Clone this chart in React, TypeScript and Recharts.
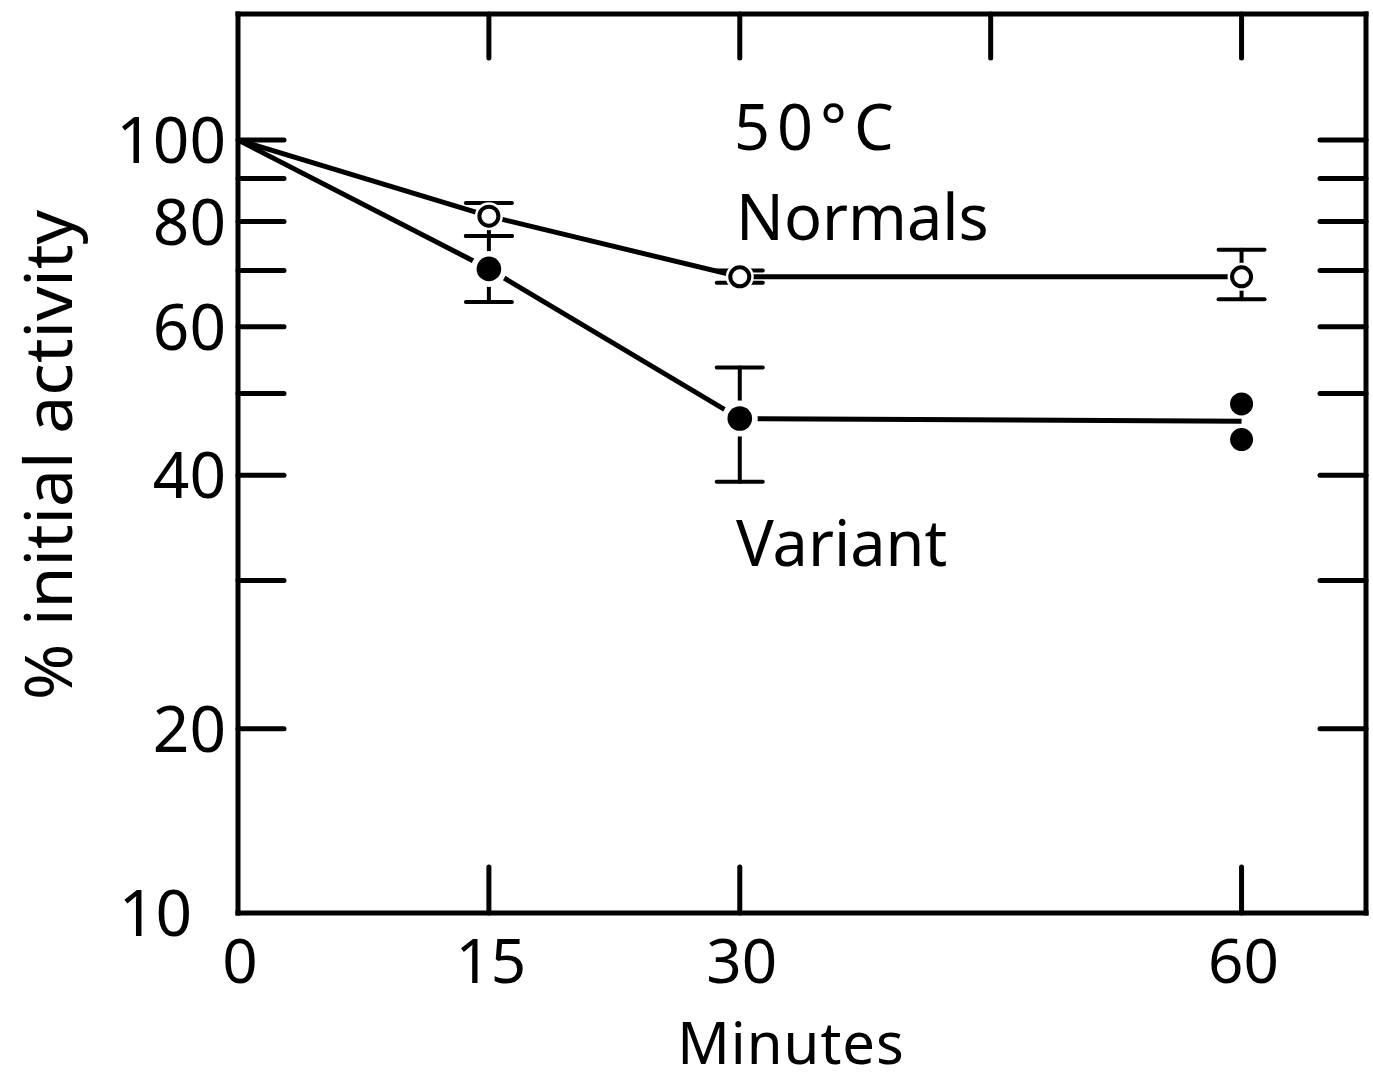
import React from "react";
import {
  ComposedChart, Line, Scatter, XAxis, YAxis, ErrorBar, Customized,
} from "recharts";

// Heat inactivation at 50 °C: % of initial activity (log scale) vs. minutes.

// ---------------------------------------------------------------------------
// data
// ---------------------------------------------------------------------------

const minutes = [0, 15, 30, 60];

const normalsMean = [100, 81.2, 68.8, 68.8];
const normalsHigh = [null, 84.2, 70.0, 74.1];
const normalsLow = [null, 76.9, 67.7, 64.7];

const variantMean = [100, 70.3, 46.7, 46.35];
const variantHigh = [null, 76.9, 53.7, null];
const variantLow = [null, 64.2, 39.3, null];

// two single determinations for the variant at 60 min
const variantSingleMinutes = [60, 60];
const variantSingleValues = [48.6, 44.1];

const bottomTicks = [0, 15, 30, 60];
const topTicks = [15, 30, 45, 60];
const yTicks = [20, 30, 40, 50, 60, 70, 80, 90, 100];
const yTickLabels = [20, 40, 60, 80, 100];

// ---------------------------------------------------------------------------
// layout / style
// ---------------------------------------------------------------------------

const W = 1373;
const H = 1083;
const X_MAX = 67.44;
const Y_MIN = 12.09; // bottom edge of the frame, lettered "10"
const Y_MAX = 141.1;

const INK = "#000";
const FONT = "'Noto Sans', sans-serif";
const TICK_LEN = 46;
const FRAME = { stroke: INK, strokeWidth: 5, strokeLinecap: "square" as const };

const errPair = (mean: number, lo: number | null, hi: number | null) =>
  lo == null || hi == null ? undefined : [mean - lo, hi - mean];

const rows = minutes.map((m, i) => ({
  minutes: m,
  normals: normalsMean[i],
  normalsErr: errPair(normalsMean[i], normalsLow[i], normalsHigh[i]),
  variant: variantMean[i],
  variantErr: errPair(variantMean[i], variantLow[i], variantHigh[i]),
}));

const singles = variantSingleMinutes.map((m, i) => ({
  minutes: m,
  value: variantSingleValues[i],
}));

// ---------------------------------------------------------------------------
// ticks (drawn pointing into the frame)
// ---------------------------------------------------------------------------

const labelStyle = { fontFamily: FONT, fontSize: 64, fill: INK };
const xLabelStyle = { fontFamily: FONT, fontSize: 62, fill: INK };

function LeftTick(props: any) {
  const { x, y, payload } = props;
  const v = payload.value;
  if (v === Y_MIN) {
    return (
      <text x={x - 46} y={y + 23} textAnchor="end" style={labelStyle}>10</text>
    );
  }
  return (
    <g>
      <line x1={x} x2={x + TICK_LEN} y1={y} y2={y} stroke={INK} strokeWidth={5} strokeLinecap="round" />
      {yTickLabels.includes(v) && (
        <text x={x - 12} y={y + 23} textAnchor="end" style={labelStyle}>{v}</text>
      )}
    </g>
  );
}

function RightTick(props: any) {
  const { x, y } = props;
  return <line x1={x} x2={x - TICK_LEN} y1={y} y2={y} stroke={INK} strokeWidth={5} strokeLinecap="round" />;
}

function BottomTick(props: any) {
  const { x, y, payload } = props;
  return (
    <g>
      {payload.value !== 0 && (
        <line x1={x} x2={x} y1={y} y2={y - TICK_LEN} stroke={INK} strokeWidth={5} strokeLinecap="round" />
      )}
      <text x={x + 2} y={y + 70} textAnchor="middle" style={xLabelStyle}>{payload.value}</text>
    </g>
  );
}

function TopTick(props: any) {
  const { x, y } = props;
  return <line x1={x} x2={x} y1={y} y2={y + TICK_LEN - 2} stroke={INK} strokeWidth={5} strokeLinecap="round" />;
}

// ---------------------------------------------------------------------------
// markers: a white halo leaves the little gap where lines meet a symbol
// ---------------------------------------------------------------------------

function openDot(props: any) {
  const { cx, cy, index } = props;
  if (index === 0) return <g key={`n-${index}`} />;
  return (
    <g key={`n-${index}`}>
      <circle cx={cx} cy={cy} r={14} fill="#fff" />
      <circle cx={cx} cy={cy} r={9.5} fill="#fff" stroke={INK} strokeWidth={4} />
    </g>
  );
}

function filledDot(props: any) {
  const { cx, cy, index } = props;
  if (index === 0 || index === minutes.length - 1) return <g key={`v-${index}`} />;
  return (
    <g key={`v-${index}`}>
      <circle cx={cx} cy={cy} r={18} fill="#fff" />
      <circle cx={cx} cy={cy} r={12.3} fill={INK} />
    </g>
  );
}

function singleDot(props: any) {
  return <circle cx={props.cx} cy={props.cy} r={11.5} fill={INK} />;
}

// ---------------------------------------------------------------------------
// free text
// ---------------------------------------------------------------------------

function Annotations() {
  return (
    <g fontFamily={FONT} fill={INK}>
      <text x={734} y={150} fontSize={63} letterSpacing={7}>50°C</text>
      <text x={736} y={240} fontSize={63}>Normals</text>
      <text x={736} y={566} fontSize={63}>Variant</text>
      <text x={791} y={1064} fontSize={58} textAnchor="middle" letterSpacing={1}>Minutes</text>
      <text
        transform="translate(72 455) rotate(-90)"
        fontSize={66}
        textAnchor="middle"
        textLength={490}
        lengthAdjust="spacingAndGlyphs"
      >
        % initial activity
      </text>
    </g>
  );
}

export default function App() {
  return (
    <div style={{ width: W, height: H, background: "#fff" }}>
      <style>{"body{margin:0;background:#fff}"}</style>
      <ComposedChart width={W} height={H} data={rows} margin={{ top: 0, right: 0, bottom: 0, left: 0 }}>
        <XAxis
          xAxisId="bottom" orientation="bottom" type="number" dataKey="minutes"
          domain={[0, X_MAX]} allowDataOverflow ticks={bottomTicks} interval={0}
          height={170} tickSize={0} tickMargin={0} tickLine={false}
          axisLine={FRAME} tick={<BottomTick />}
        />
        <XAxis
          xAxisId="top" orientation="top" type="number" dataKey="minutes"
          domain={[0, X_MAX]} allowDataOverflow ticks={topTicks} interval={0}
          height={14} tickSize={0} tickMargin={0} tickLine={false}
          axisLine={FRAME} tick={<TopTick />}
        />
        <YAxis
          yAxisId="left" orientation="left" type="number" scale="log"
          domain={[Y_MIN, Y_MAX]} allowDataOverflow ticks={[Y_MIN, ...yTicks]} interval={0}
          width={238} tickSize={0} tickMargin={0} tickLine={false}
          axisLine={FRAME} tick={<LeftTick />}
        />
        <YAxis
          yAxisId="right" orientation="right" type="number" scale="log"
          domain={[Y_MIN, Y_MAX]} allowDataOverflow ticks={yTicks} interval={0}
          width={7} tickSize={0} tickMargin={0} tickLine={false}
          axisLine={FRAME} tick={<RightTick />}
        />

        {/* invisible series so the top and right frame axes get their scales */}
        <Line
          xAxisId="top" yAxisId="right" dataKey="normals" stroke="none"
          dot={false} activeDot={false} isAnimationActive={false}
        />

        <Line
          xAxisId="bottom" yAxisId="left" dataKey="normals" type="linear"
          stroke={INK} strokeWidth={5} dot={openDot} activeDot={false}
          isAnimationActive={false}
        >
          <ErrorBar dataKey="normalsErr" width={23} stroke={INK} strokeWidth={4} strokeLinecap="round" direction="y" />
        </Line>
        <Line
          xAxisId="bottom" yAxisId="left" dataKey="variant" type="linear"
          stroke={INK} strokeWidth={5} dot={filledDot} activeDot={false}
          isAnimationActive={false}
        >
          <ErrorBar dataKey="variantErr" width={23} stroke={INK} strokeWidth={4} strokeLinecap="round" direction="y" />
        </Line>
        <Scatter
          xAxisId="bottom" yAxisId="left" data={singles} dataKey="value"
          shape={singleDot} isAnimationActive={false}
        />

        <Customized component={<Annotations />} />
      </ComposedChart>
    </div>
  );
}
